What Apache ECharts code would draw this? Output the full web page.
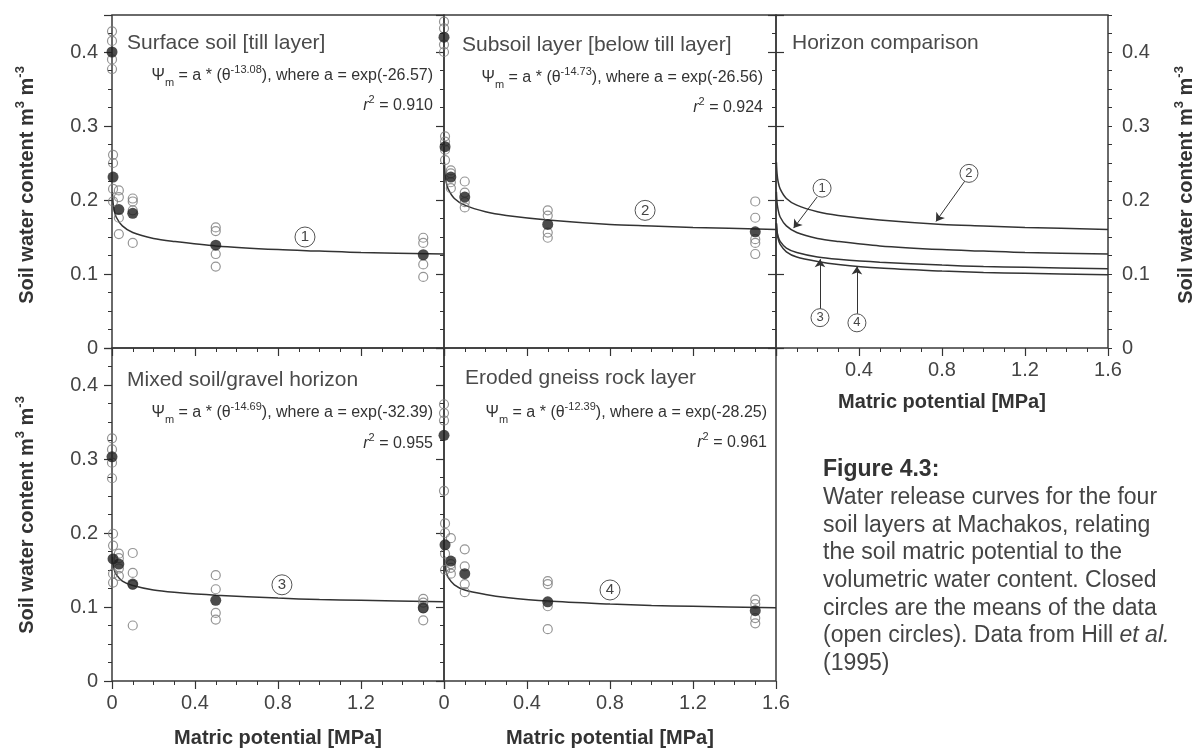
<!DOCTYPE html>
<html>
<head>
<meta charset="utf-8">
<title>Water release curves - Machakos</title>
<script src="https://cdn.jsdelivr.net/npm/echarts@6/dist/echarts.min.js"></script>
<style>
html, body { margin: 0; padding: 0; background: #fff; }
#chart { width: 1200px; height: 752px; }
</style>
</head>
<body>
<div id="chart"></div>
<script>
// matric potential levels of the samples [MPa]
var potentialLevels = [0, 0.005, 0.033, 0.1, 0.5, 1.5];

// open circles (single samples), one list per potential level
var surfaceSamples = [
    [0.428, 0.415, 0.390, 0.377],
    [0.261, 0.250, 0.215, 0.198],
    [0.213, 0.204, 0.176, 0.154],
    [0.202, 0.198, 0.186, 0.142],
    [0.163, 0.158, 0.127, 0.110],
    [0.149, 0.142, 0.113, 0.096]
];
var subsoilSamples = [
    [0.441, 0.432, 0.410, 0.400],
    [0.286, 0.279, 0.268, 0.254],
    [0.240, 0.236, 0.224, 0.216],
    [0.225, 0.210, 0.197, 0.190],
    [0.186, 0.179, 0.156, 0.149],
    [0.198, 0.176, 0.147, 0.142, 0.127]
];
var gravelSamples = [
    [0.328, 0.313, 0.295, 0.274],
    [0.199, 0.183, 0.145, 0.133],
    [0.172, 0.166, 0.152, 0.142],
    [0.173, 0.146, 0.130, 0.075],
    [0.143, 0.124, 0.092, 0.083],
    [0.111, 0.106, 0.098, 0.082]
];
var gneissSamples = [
    [0.374, 0.362, 0.352, 0.257],
    [0.213, 0.200, 0.172, 0.150],
    [0.193, 0.158, 0.153, 0.145],
    [0.178, 0.155, 0.131, 0.120],
    [0.135, 0.131, 0.101, 0.070],
    [0.110, 0.104, 0.085, 0.078]
];

// closed circles (means)
var surfaceMeans = [0.400, 0.231, 0.187, 0.182, 0.139, 0.126];
var subsoilMeans = [0.420, 0.272, 0.231, 0.204, 0.167, 0.157];
var gravelMeans = [0.303, 0.165, 0.158, 0.131, 0.109, 0.099];
var gneissMeans = [0.332, 0.184, 0.162, 0.145, 0.107, 0.095];

// fitted curves
var fitPotential = [0.002, 0.005, 0.01, 0.02, 0.05, 0.1, 0.2, 0.3, 0.5, 0.8, 1.0, 1.2, 1.6];
var surfaceFit = [0.211, 0.197, 0.187, 0.177, 0.165, 0.156, 0.148, 0.144, 0.138, 0.133, 0.131, 0.129, 0.127];
var subsoilFit = [0.251, 0.236, 0.225, 0.215, 0.202, 0.193, 0.184, 0.179, 0.173, 0.167, 0.165, 0.163, 0.160];
var gravelFit = [0.168, 0.158, 0.151, 0.144, 0.135, 0.129, 0.123, 0.120, 0.116, 0.112, 0.110, 0.109, 0.107];
var gneissFit = [0.169, 0.157, 0.148, 0.140, 0.130, 0.123, 0.117, 0.113, 0.108, 0.104, 0.102, 0.101, 0.099];

// fit parameters
var panelTitles = ['Surface soil [till layer]', 'Subsoil layer [below till layer]', 'Horizon comparison',
    'Mixed soil/gravel horizon', 'Eroded gneiss rock layer'];
var fitExponent = ['-13.08', '-14.73', '-14.69', '-12.39'];
var fitLogA = ['-26.57', '-26.56', '-32.39', '-28.25'];
var fitR2 = ['0.910', '0.924', '0.955', '0.961'];

// tick labels
var xTicks = [0, 0.4, 0.8, 1.2, 1.6];
var xTickLabels = ['0', '0.4', '0.8', '1.2', '1.6'];
var yTicks = [0, 0.1, 0.2, 0.3, 0.4];
var yTickLabels = ['0', '0.1', '0.2', '0.3', '0.4'];

var captionTitle = 'Figure 4.3:';
var captionLines = ['Water release curves for the four', 'soil layers at Machakos, relating',
    'the soil matric potential to the', 'volumetric water content. Closed',
    'circles are the means of the data', '(open circles). Data from Hill {i|et al.}', '(1995)'];

var FONT = '"Liberation Sans", Arial, Helvetica, sans-serif';
var W = 332, H = 333;
var boxes = [
    {left: 112, top: 15}, {left: 444, top: 15}, {left: 776, top: 15},
    {left: 112, top: 348}, {left: 444, top: 348}
];

function pickLabel(ticks, labels) {
    return function (v) {
        for (var k = 0; k < ticks.length; k++) {
            if (Math.abs(v - ticks[k]) < 1e-6) return labels[k];
        }
        return '';
    };
}

function samplePoints(samples) {
    var pts = [];
    samples.forEach(function (list, i) {
        list.forEach(function (v) { pts.push([potentialLevels[i], v]); });
    });
    return pts;
}
function zip(xs, ys) {
    return xs.map(function (x, i) { return [x, ys[i]]; });
}

var grids = boxes.map(function (b) {
    return {left: b.left, top: b.top, width: W, height: H, show: true,
        borderColor: '#3a3a3a', borderWidth: 1.5, backgroundColor: 'rgba(0,0,0,0)'};
});

var xAxes = boxes.map(function (b, i) {
    return {
        gridIndex: i, type: 'value', min: 0, max: 1.6, interval: 0.4,
        axisLine: {show: false},
        axisTick: {show: true, length: 8, lineStyle: {color: '#333', width: 1.2}},
        minorTick: {show: true, splitNumber: 4, length: 4, lineStyle: {color: '#333', width: 1}},
        splitLine: {show: false},
        axisLabel: {
            show: i >= 2, fontSize: 20, color: '#444', fontFamily: FONT, margin: 12,
            showMinLabel: i !== 2, showMaxLabel: i !== 3,
            formatter: pickLabel(xTicks, xTickLabels)
        }
    };
});

// y axes: major (with labels) and minor (every 0.025) for each panel,
// plus left-side ticks for the horizon comparison panel
function yTickAxis(i, pos, interval, len, labels) {
    return {
        gridIndex: i, type: 'value', min: 0, max: 0.45, interval: interval, position: pos,
        axisLine: {show: false},
        axisTick: {show: true, length: len, lineStyle: {color: '#333', width: len > 5 ? 1.2 : 1}},
        splitLine: {show: false},
        axisLabel: {
            show: labels, fontSize: 20, color: '#444', fontFamily: FONT,
            margin: 14, formatter: pickLabel(yTicks, yTickLabels)
        }
    };
}
var yAxes = [];
boxes.forEach(function (b, i) {
    yAxes.push(yTickAxis(i, i === 2 ? 'right' : 'left', 0.1, 8, i === 0 || i === 2 || i === 3));
});
boxes.forEach(function (b, i) {
    yAxes.push(yTickAxis(i, i === 2 ? 'right' : 'left', 0.025, 4, false));
});
yAxes.push(yTickAxis(2, 'left', 0.1, 8, false));
yAxes.push(yTickAxis(2, 'left', 0.025, 4, false));

function circledMark(num, coord, size) {
    return {
        symbol: 'circle', symbolSize: size, silent: true,
        itemStyle: {color: '#fff', borderColor: '#555', borderWidth: 1},
        label: {show: true, position: 'inside', formatter: num, color: '#444',
            fontSize: size - 5, fontFamily: FONT},
        data: [{coord: coord}]
    };
}

var series = [];
var panelData = [
    {grid: 0, samples: surfaceSamples, means: surfaceMeans, fit: surfaceFit, num: '1', at: [0.93, 0.15]},
    {grid: 1, samples: subsoilSamples, means: subsoilMeans, fit: subsoilFit, num: '2', at: [0.969, 0.186]},
    {grid: 3, samples: gravelSamples, means: gravelMeans, fit: gravelFit, num: '3', at: [0.819, 0.13]},
    {grid: 4, samples: gneissSamples, means: gneissMeans, fit: gneissFit, num: '4', at: [0.80, 0.123]}
];
panelData.forEach(function (p) {
    series.push({
        type: 'line', xAxisIndex: p.grid, yAxisIndex: p.grid, data: zip(fitPotential, p.fit),
        showSymbol: false, smooth: 0.3, lineStyle: {color: '#333', width: 1.5}, z: 2, silent: true,
        markPoint: circledMark(p.num, p.at, 20)
    });
    series.push({
        type: 'scatter', xAxisIndex: p.grid, yAxisIndex: p.grid, data: samplePoints(p.samples),
        symbol: 'circle', symbolSize: 9, z: 3, silent: true,
        itemStyle: {color: 'rgba(255,255,255,0)', borderColor: '#7a7a7a', borderWidth: 1.2}
    });
    series.push({
        type: 'scatter', xAxisIndex: p.grid, yAxisIndex: p.grid, data: zip(potentialLevels, p.means),
        symbol: 'circle', symbolSize: 11, z: 4, silent: true, itemStyle: {color: '#1e1e1e'}
    });
});

// horizon comparison panel: all four curves with arrows
var horizon = [
    {fit: surfaceFit, num: '1', at: [0.222, 0.216], from: [0.198, 0.204], to: [0.085, 0.162]},
    {fit: subsoilFit, num: '2', at: [0.930, 0.236], from: [0.911, 0.226], to: [0.771, 0.171]},
    {fit: gravelFit, num: '3', at: [0.212, 0.041], from: [0.212, 0.052], to: [0.212, 0.120]},
    {fit: gneissFit, num: '4', at: [0.390, 0.034], from: [0.390, 0.046], to: [0.390, 0.110]}
];
horizon.forEach(function (h) {
    series.push({
        type: 'line', xAxisIndex: 2, yAxisIndex: 2, data: zip(fitPotential, h.fit),
        showSymbol: false, smooth: 0.3, lineStyle: {color: '#333', width: 1.5}, silent: true,
        markPoint: circledMark(h.num, h.at, 18),
        markLine: {
            silent: true, symbol: ['none', 'arrow'], symbolSize: 8,
            lineStyle: {type: 'solid', color: '#333', width: 1},
            itemStyle: {color: '#333'},
            label: {show: false},
            data: [[{coord: h.from}, {coord: h.to}]]
        }
    });
});

// texts
var eqRich = {
    n: {fontSize: 16, fontFamily: FONT, fill: '#333', lineHeight: 24},
    ri: {fontSize: 16, fontFamily: FONT, fontStyle: 'italic', fill: '#333', lineHeight: 24},
    sub: {fontSize: 11, fontFamily: FONT, fill: '#333', lineHeight: 11, verticalAlign: 'bottom'},
    sup: {fontSize: 11, fontFamily: FONT, fill: '#333', lineHeight: 11, verticalAlign: 'top'}
};
var graphics = [];
var titlePos = [[127, 43], [462, 45], [792, 43], [127, 380], [465, 378]];
panelTitles.forEach(function (t, i) {
    graphics.push({type: 'text', x: titlePos[i][0], y: titlePos[i][1], silent: true,
        style: {text: t, fontSize: 21, fontFamily: FONT, fill: '#4a4a4a', verticalAlign: 'middle'}});
});
var eqPos = [[433, 76, 106], [763, 78, 108], [433, 413, 444], [767, 413, 443]];
fitExponent.forEach(function (e, i) {
    graphics.push({type: 'text', x: eqPos[i][0], y: eqPos[i][1], silent: true,
        style: {text: '{n|Ψ}{sub|m}{n| = a * (θ}{sup|' + e + '}{n|), where a = exp(' + fitLogA[i] + ')}',
            rich: eqRich, align: 'right', verticalAlign: 'middle'}});
    graphics.push({type: 'text', x: eqPos[i][0], y: eqPos[i][2], silent: true,
        style: {text: '{ri|r}{sup|2}{n| = ' + fitR2[i] + '}', rich: eqRich, align: 'right', verticalAlign: 'middle'}});
});

var axRich = {
    t: {fontSize: 20, fontWeight: 'bold', fontFamily: FONT, fill: '#333', lineHeight: 26},
    s: {fontSize: 13, fontWeight: 'bold', fontFamily: FONT, fill: '#333', lineHeight: 13, verticalAlign: 'top'}
};
var yTitle = '{t|Soil water content m}{s|3}{t| m}{s|-3}';
[[27, 185], [27, 515], [1186, 185]].forEach(function (p) {
    graphics.push({type: 'text', x: p[0], y: p[1], rotation: Math.PI / 2, silent: true,
        style: {text: yTitle, rich: axRich, align: 'center', verticalAlign: 'middle'}});
});
[[278, 738], [610, 738], [942, 402]].forEach(function (p) {
    graphics.push({type: 'text', x: p[0], y: p[1], silent: true,
        style: {text: 'Matric potential [MPa]', fontSize: 20, fontWeight: 'bold', fontFamily: FONT,
            fill: '#333', align: 'center', verticalAlign: 'middle'}});
});

var capRich = {
    b: {fontSize: 23, fontWeight: 'bold', fontFamily: FONT, fill: '#333', lineHeight: 27.7},
    n: {fontSize: 23, fontFamily: FONT, fill: '#444', lineHeight: 27.7},
    i: {fontSize: 23, fontStyle: 'italic', fontFamily: FONT, fill: '#444', lineHeight: 27.7}
};
var capText = '{b|' + captionTitle + '}\n' + captionLines.map(function (l) {
    return l.indexOf('{i|') >= 0 ? '{n|' + l.replace('{i|', '}{i|') : '{n|' + l + '}';
}).join('\n');
graphics.push({type: 'text', x: 823, y: 456, silent: true,
    style: {text: capText, rich: capRich, align: 'left', verticalAlign: 'top'}});

var chart = echarts.init(document.getElementById('chart'));
chart.setOption({
    animation: false,
    backgroundColor: '#fff',
    grid: grids,
    xAxis: xAxes,
    yAxis: yAxes,
    series: series,
    graphic: graphics
});
</script>
</body>
</html>
